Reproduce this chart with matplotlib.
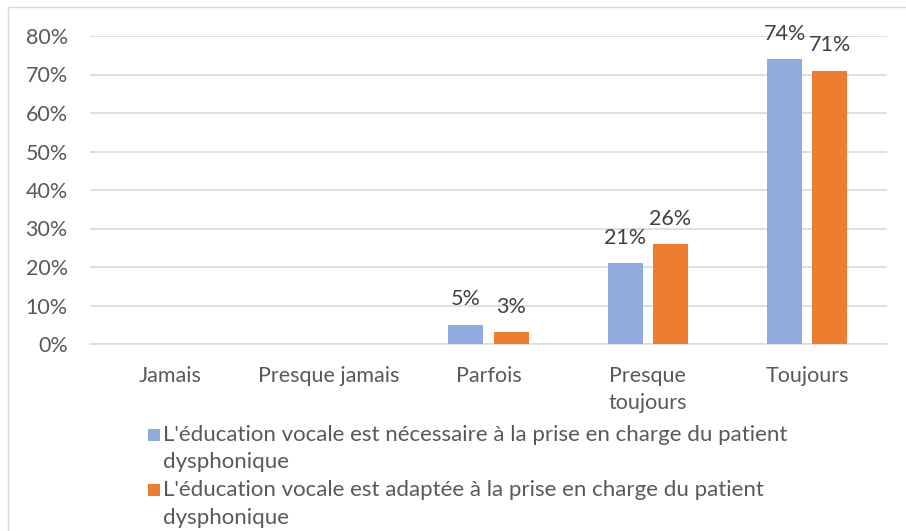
import matplotlib
matplotlib.use("Agg")
import matplotlib.pyplot as plt
from matplotlib.patches import Rectangle
import numpy as np

categories = ["Jamais", "Presque jamais", "Parfois", "Presque\ntoujours", "Toujours"]
necessaire = [0, 0, 5, 21, 74]
adaptee = [0, 0, 3, 26, 71]
series_labels = [
    "L'éducation vocale est nécessaire à la prise en charge du patient\ndysphonique",
    "L'éducation vocale est adaptée à la prise en charge du patient\ndysphonique",
]
colors = ["#8faadc", "#ed7d31"]
yticks = [0, 10, 20, 30, 40, 50, 60, 70, 80]

plt.rcParams['font.family'] = ['Lato', 'DejaVu Sans']
FS = 15.5
W, H = 906, 531
fig = plt.figure(figsize=(W / 100, H / 100), dpi=100)

# outer frame
fig.patches.append(Rectangle((8 / W, -0.1), 1.2, 1.1 - 7 / H, transform=fig.transFigure,
                             fill=False, edgecolor="#d9d9d9", linewidth=1.0))

ax = fig.add_axes([90 / W, 1 - 344 / H, (887 - 90) / W, (344 - 36) / H])
x = np.arange(len(categories))
bw = 0.22
gap = 0.063
offs = [-(bw + gap) / 2, (bw + gap) / 2]
for vals, c, o in zip([necessaire, adaptee], colors, offs):
    bars = ax.bar(x + o, vals, width=bw, color=c, zorder=3)
    for b, v in zip(bars, vals):
        if v > 0:
            ax.annotate(f"{v}%", (b.get_x() + b.get_width() / 2, v), xytext=(0, 11),
                        textcoords="offset points", ha="center", va="bottom",
                        fontsize=FS, color="#404040")

ax.set_xlim(-0.5, len(categories) - 0.5)
ax.set_ylim(0, 80)
ax.set_yticks(yticks)
ax.set_yticklabels([f"{t}%" for t in yticks])
ax.set_xticks(x)
ax.set_xticklabels(categories)
ax.tick_params(axis="y", length=0, pad=16, labelsize=FS, labelcolor="#595959")
ax.tick_params(axis="x", length=0, pad=16, labelsize=FS, labelcolor="#595959")
for lab in ax.get_xticklabels():
    lab.set_linespacing(1.4)
    lab.set_verticalalignment("top")
ax.grid(axis="y", color="#d9d9d9", linewidth=1.2, zorder=0)
for s in ["top", "right", "left"]:
    ax.spines[s].set_visible(False)
ax.spines["bottom"].set_color("#d9d9d9")
ax.spines["bottom"].set_linewidth(1.2)
ax.set_facecolor("none")

# legend (manual, below plot)
LFS = 16
ys = [435, 490]
for lab, c, yc in zip(series_labels, colors, ys):
    fig.patches.append(Rectangle((148 / W, 1 - (yc + 6) / H), 12 / W, 12 / H,
                                 transform=fig.transFigure, facecolor=c, edgecolor="none"))
    l1, l2 = lab.split("\n")
    fig.text(163 / W, 1 - yc / H, l1, fontsize=LFS, color="#595959", va="center", ha="left")
    fig.text(163 / W, 1 - (yc + 27.5) / H, l2, fontsize=LFS, color="#595959", va="center", ha="left")

fig.savefig("out.png", dpi=100)
